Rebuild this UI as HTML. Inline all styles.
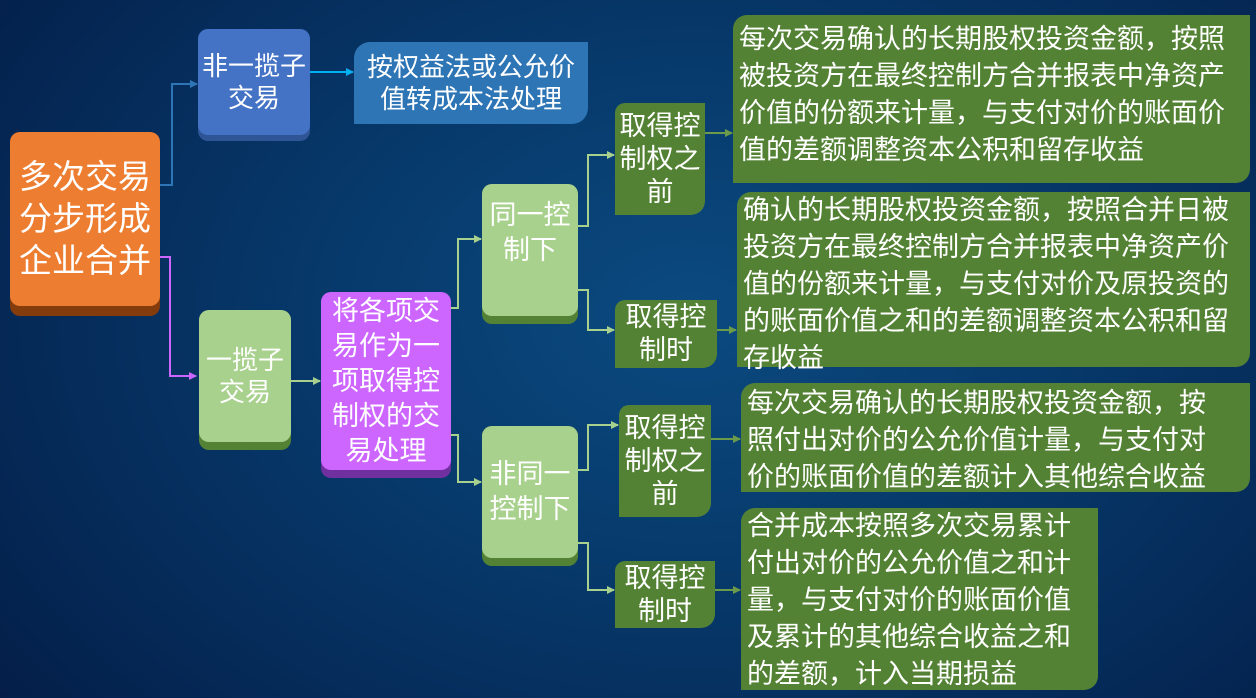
<!DOCTYPE html>
<html><head><meta charset="utf-8"><style>
body{margin:0}
#c{position:relative;width:1256px;height:698px;overflow:hidden;
background:radial-gradient(ellipse 70% 90% at 55% 45%,#0b4a80 0%,#073a6c 40%,#052a58 75%,#041e48 100%);
font-family:"Liberation Sans","Noto Sans CJK SC",sans-serif;color:#fff}
.b{position:absolute;box-sizing:border-box;display:flex;align-items:center;justify-content:center;text-align:center;border-radius:10px;line-height:1.25}
.t{position:absolute;box-sizing:border-box;background:#548235;font-size:27px;line-height:37px;padding:2px 6px;border-radius:14px 0 14px 0;text-align:left}
.d{position:absolute;box-sizing:border-box;background:#548235;font-size:27px;line-height:33px;text-align:center;border-radius:10px 0 14px 0;display:flex;align-items:center;justify-content:center}
svg{position:absolute;left:0;top:0}
</style></head><body><div id="c">
<svg width="1256" height="698">
<defs>
<marker id="m1" markerWidth="8" markerHeight="8" refX="7" refY="4" orient="auto" markerUnits="userSpaceOnUse"><path d="M0,0L8,4L0,8z" fill="#2e75b6"/></marker>
<marker id="m2" markerWidth="8" markerHeight="8" refX="7" refY="4" orient="auto" markerUnits="userSpaceOnUse"><path d="M0,0L8,4L0,8z" fill="#cc66ff"/></marker>
<marker id="m3" markerWidth="8" markerHeight="8" refX="7" refY="4" orient="auto" markerUnits="userSpaceOnUse"><path d="M0,0L8,4L0,8z" fill="#00b0f0"/></marker>
<marker id="m4" markerWidth="8" markerHeight="8" refX="7" refY="4" orient="auto" markerUnits="userSpaceOnUse"><path d="M0,0L8,4L0,8z" fill="#a9d18e"/></marker>
<marker id="m5" markerWidth="8" markerHeight="8" refX="7" refY="4" orient="auto" markerUnits="userSpaceOnUse"><path d="M0,0L8,4L0,8z" fill="#6b9a4a"/></marker>
</defs>
<g fill="none" stroke-width="2">
<path d="M160,185H172V84H197" stroke="#2e75b6" marker-end="url(#m1)"/>
<path d="M160,257H170V376H196" stroke="#cc66ff" marker-end="url(#m2)"/>
<path d="M310,72H353" stroke="#00b0f0" marker-end="url(#m3)"/>
<g stroke="#a9d18e" marker-end="url(#m4)">
<path d="M291,381H320"/>
<path d="M451,308H458V239H481"/>
<path d="M451,435H458V482H481"/>
<path d="M578,226H588V155H614"/>
<path d="M578,290H588V330H614"/>
<path d="M578,470H588V425H618"/>
<path d="M578,543H588V590H614"/>
</g>
<g stroke="#6b9a4a" marker-end="url(#m5)">
<path d="M705,133H732"/>
<path d="M717,330H736"/>
<path d="M711,439H740"/>
<path d="M715,590H740"/>
</g>
</g>
</svg>
<div class="b" style="left:10px;top:132px;width:150px;height:184px;background:#843c0c;"></div>
<div class="b" style="left:10px;top:132px;width:150px;height:174px;background:#ed7d31;font-size:33px;line-height:42px">多次交易<br>分步形成<br>企业合并</div>
<div class="b" style="left:198px;top:29px;width:112px;height:112px;background:#2f5597"></div>
<div class="b" style="left:198px;top:29px;width:112px;height:106px;background:#4472c4;font-size:26px;line-height:32px">非一揽子<br>交易</div>
<div class="b" style="left:354px;top:42px;width:234px;height:82px;background:#2e75b6;border-radius:16px 0 16px 0;font-size:26px;line-height:32px">按权益法或公允价<br>值转成本法处理</div>
<div class="b" style="left:199px;top:310px;width:92px;height:140px;background:#548235"></div>
<div class="b" style="left:199px;top:310px;width:92px;height:132px;background:#a9d18e;font-size:26px;line-height:32px">一揽子<br>交易</div>
<div class="b" style="left:321px;top:292px;width:130px;height:186px;background:#7030a0"></div>
<div class="b" style="left:321px;top:292px;width:130px;height:178px;background:#cc66ff;font-size:27px;line-height:35px">将各项交<br>易作为一<br>项取得控<br>制权的交<br>易处理</div>
<div class="b" style="left:482px;top:184px;width:96px;height:140px;background:#548235"></div>
<div class="b" style="left:482px;top:184px;width:96px;height:132px;background:#a9d18e;font-size:27px;line-height:35px;padding-bottom:34px">同一控<br>制下</div>
<div class="b" style="left:482px;top:426px;width:96px;height:140px;background:#548235"></div>
<div class="b" style="left:482px;top:426px;width:96px;height:132px;background:#a9d18e;font-size:27px;line-height:35px">非同一<br>控制下</div>
<div class="d" style="left:615px;top:103px;width:90px;height:112px">取得控<br>制权之<br>前</div>
<div class="d" style="left:615px;top:300px;width:102px;height:68px">取得控<br>制时</div>
<div class="d" style="left:619px;top:405px;width:92px;height:112px">取得控<br>制权之<br>前</div>
<div class="d" style="left:615px;top:561px;width:100px;height:67px">取得控<br>制时</div>
<div class="t" style="left:733px;top:15px;width:517px;height:168px;padding-top:6px">每次交易确认的长期股权投资金额，按照<br>被投资方在最终控制方合并报表中净资产<br>价值的份额来计量，与支付对价的账面价<br>值的差额调整资本公积和留存收益</div>
<div class="t" style="left:737px;top:192px;width:513px;height:175px;padding-top:0">确认的长期股权投资金额，按照合并日被<br>投资方在最终控制方合并报表中净资产价<br>值的份额来计量，与支付对价及原投资的<br>的账面价值之和的差额调整资本公积和留<br>存收益</div>
<div class="t" style="left:741px;top:383px;width:509px;height:109px;padding-top:2px">每次交易确认的长期股权投资金额，按<br>照付出对价的公允价值计量，与支付对<br>价的账面价值的差额计入其他综合收益</div>
<div class="t" style="left:741px;top:508px;width:357px;height:182px;padding-top:0">合并成本按照多次交易累计<br>付出对价的公允价值之和计<br>量，与支付对价的账面价值<br>及累计的其他综合收益之和<br>的差额，计入当期损益</div>
</div></body></html>
